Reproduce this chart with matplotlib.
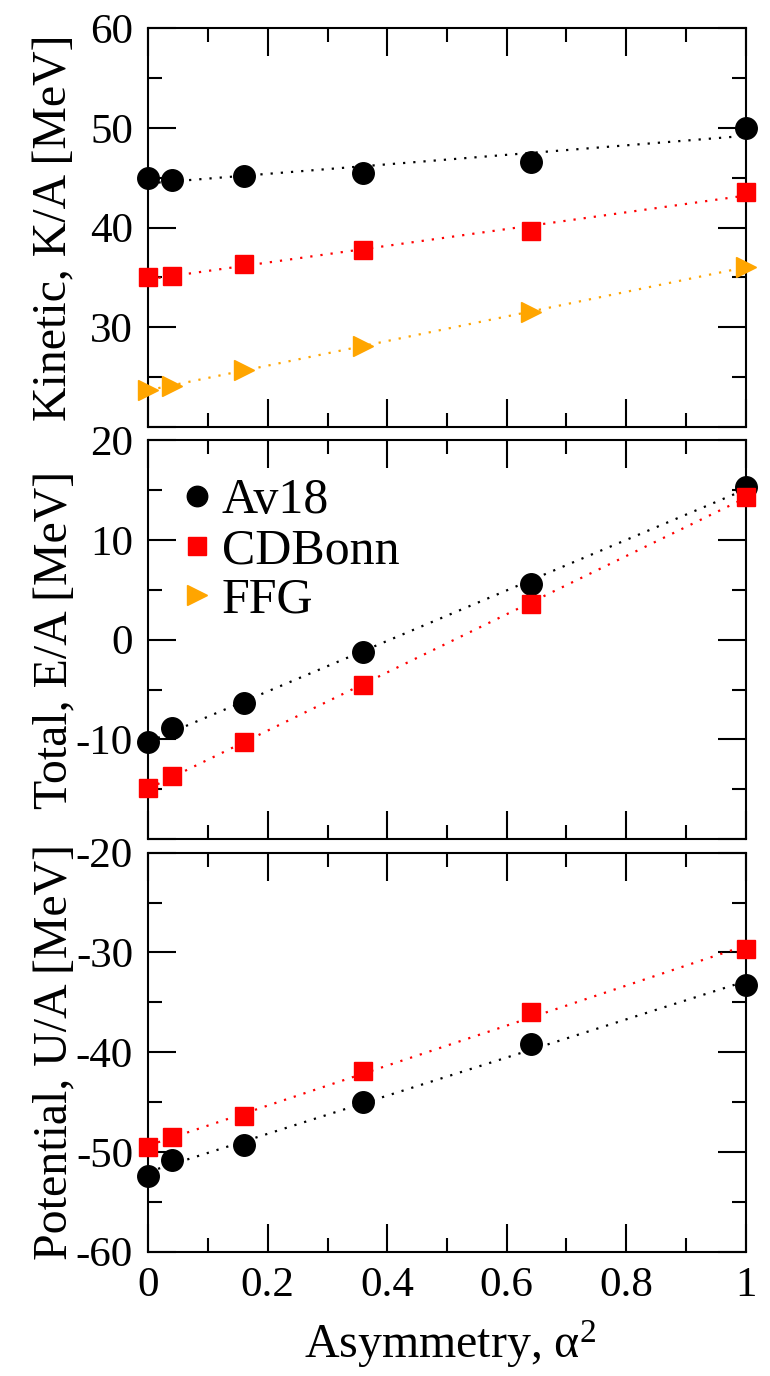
import numpy as np
import matplotlib
matplotlib.use("Agg")
import matplotlib.pyplot as plt
from matplotlib.ticker import MultipleLocator, FixedLocator, FuncFormatter

plt.rcParams['font.family'] = ['Liberation Serif', 'DejaVu Serif']
plt.rcParams['mathtext.fontset'] = 'custom'
plt.rcParams['mathtext.rm'] = 'Liberation Serif'
plt.rcParams['mathtext.it'] = 'Liberation Serif:italic'
plt.rcParams['axes.unicode_minus'] = False

# ---- data ----
asym = [0.0, 0.04, 0.16, 0.36, 0.64, 1.0]

kin_av18 = [45.0, 44.8, 45.2, 45.5, 46.6, 50.0]
kin_cdbonn = [35.0, 35.1, 36.3, 37.7, 39.6, 43.6]
kin_ffg = [23.7, 24.1, 25.7, 28.1, 31.5, 36.05]

tot_av18 = [-10.3, -8.9, -6.3, -1.2, 5.6, 15.3]
tot_cdbonn = [-14.9, -13.7, -10.3, -4.5, 3.6, 14.3]

pot_av18 = [-52.4, -50.8, -49.3, -45.0, -39.2, -33.25]
pot_cdbonn = [-49.5, -48.55, -46.4, -41.9, -36.0, -29.7]

series_names = ['Av18', 'CDBonn', 'FFG']
panel_ylabels = ['Kinetic, K/A [MeV]', 'Total, E/A [MeV]', 'Potential, U/A [MeV]']
panel_ylims = [(20, 60), (-20, 20), (-60, -20)]
panel_ytick_labels = [[30, 40, 50, 60], [-10, 0, 10, 20], [-60, -50, -40, -30, -20]]
xtick_vals = [0, 0.2, 0.4, 0.6, 0.8, 1.0]
xtick_text = ['0', '0.2', '0.4', '0.6', '0.8', '1']

styles = {
    'Av18': dict(color='black', marker='o', ms=15.5),
    'CDBonn': dict(color='#ff0000', marker='s', ms=13.5),
    'FFG': dict(color='#ffa500', marker='>', ms=15),
}

W, H = 770, 1376
fig = plt.figure(figsize=(W / 100, H / 100), dpi=100)

left = 148.3 / W
width = 597.4 / W
panels_px = [(28.3, 426.7), (440.0, 839.3), (852.7, 1251.7)]
axes = []
for top, bot in panels_px:
    ax = fig.add_axes([left, 1 - bot / H, width, (bot - top) / H])
    axes.append(ax)

data = [
    {'Av18': kin_av18, 'CDBonn': kin_cdbonn, 'FFG': kin_ffg},
    {'Av18': tot_av18, 'CDBonn': tot_cdbonn},
    {'Av18': pot_av18, 'CDBonn': pot_cdbonn},
]

xs = np.array(asym)
xfit = np.array([xs[0], xs[-1]])
for i, ax in enumerate(axes):
    for name, vals in data[i].items():
        st = styles[name]
        coef = np.polyfit(xs, np.array(vals), 1)
        ax.plot(xfit, np.polyval(coef, xfit), color=st['color'], lw=1.6,
                linestyle=(0, (1, 3.6)), zorder=2)
        ax.plot(xs, vals, linestyle='none', marker=st['marker'], ms=st['ms'],
                color=st['color'], mec=st['color'], clip_on=False, zorder=3,
                label=name)
    ax.set_xlim(0, 1)
    ax.set_ylim(*panel_ylims[i])
    ax.xaxis.set_major_locator(FixedLocator(xtick_vals))
    ax.xaxis.set_minor_locator(MultipleLocator(0.1))
    ax.yaxis.set_major_locator(MultipleLocator(10))
    ax.yaxis.set_minor_locator(MultipleLocator(5))
    labs = panel_ytick_labels[i]
    ax.yaxis.set_major_formatter(FuncFormatter(
        lambda v, p, labs=labs: ('%d' % round(v)) if round(v) in labs else ''))
    ax.tick_params(which='both', direction='in', top=True, right=True,
                   width=1.5, labelsize=31, pad=11)
    ax.tick_params(which='major', length=20)
    ax.tick_params(which='minor', length=10)
    for sp in ax.spines.values():
        sp.set_linewidth(1.5)
    if i < 2:
        ax.tick_params(axis='x', labelbottom=False)
    else:
        ax.set_xticklabels(xtick_text)
    ax.set_ylabel(panel_ylabels[i], fontsize=34.5)
    ax.yaxis.set_label_coords(-0.12, 0.5)

axes[2].set_xlabel('Asymmetry, α$^2$', fontsize=34.5)
axes[2].xaxis.label.set_va('baseline')
axes[2].xaxis.set_label_coords(0.505, (1251.7 - 1358) / 399.0)

# legend in middle panel with all three series
handles = []
for name in series_names:
    st = styles[name]
    h, = axes[1].plot([], [], linestyle='none', marker=st['marker'], ms=st['ms'] * 0.95,
                      color=st['color'], mec=st['color'])
    handles.append(h)
axes[1].legend(handles, series_names, loc='upper left', frameon=False,
               fontsize=36, handlelength=0.5, handletextpad=0.25,
               labelspacing=0.06, borderaxespad=0.0,
               bbox_to_anchor=((164 - 148.3) / 597.4, (839.3 - 458) / 399.3))

fig.savefig('out.png', dpi=100)
